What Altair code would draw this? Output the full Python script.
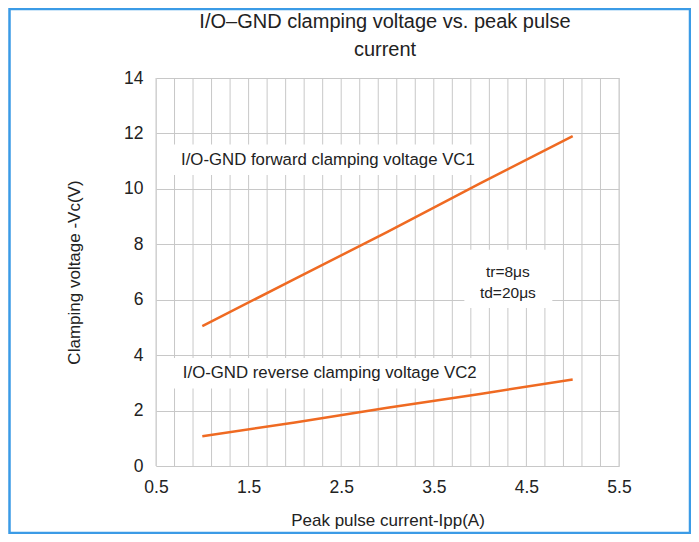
import altair as alt
import pandas as pd

# Data
current = [1.0, 2.0, 3.0, 4.0, 5.0]
vc1_forward = [5.05, 6.75, 8.45, 10.2, 11.9]
vc2_reverse = [1.07, 1.57, 2.1, 2.6, 3.12]

x_grid = [0.5, 0.7, 0.9, 1.1, 1.3, 1.5, 1.7, 1.9, 2.1, 2.3, 2.5, 2.7, 2.9,
          3.1, 3.3, 3.5, 3.7, 3.9, 4.1, 4.3, 4.5, 4.7, 4.9, 5.1, 5.3, 5.5]
x_ticks = [0.5, 1.5, 2.5, 3.5, 4.5, 5.5]
y_ticks = [0, 2, 4, 6, 8, 10, 12, 14]
title_lines = ["I/O–GND clamping voltage vs. peak pulse", "current"]

FONT = "Liberation Sans"
ORANGE = "#ef6a22"
GRID = "#c8c8c8"

df = pd.DataFrame({
    "I": current * 2,
    "V": vc1_forward + vc2_reverse,
    "s": ["VC1"] * len(current) + ["VC2"] * len(current),
})

xs = alt.Scale(domain=[0.5, 5.5], nice=False, zero=False)
ys = alt.Scale(domain=[0, 14], nice=False, zero=True)

X_TITLE = "Peak pulse current-Ipp(A)"
Y_TITLE = "Clamping voltage -Vc(V)"

x_axis = alt.Axis(values=x_ticks, title=X_TITLE, format=".1f",
                  labelFontSize=17.5, labelPadding=12, titleFontSize=17, titlePadding=17,
                  ticks=False, domain=False, grid=False, labelOverlap=False, labelFlush=False,
                  labelFont=FONT, titleFont=FONT, titleFontWeight="normal",
                  labelColor="#222", titleColor="#222")
y_axis = alt.Axis(values=y_ticks, title=Y_TITLE,
                  labelFontSize=17.5, labelPadding=13, titleFontSize=17, titlePadding=40,
                  ticks=False, domain=False, grid=True, gridColor=GRID, labelOverlap=False,
                  labelFlush=False,
                  labelFont=FONT, titleFont=FONT, titleFontWeight="normal",
                  labelColor="#222", titleColor="#222")


def X(field):
    return alt.X(field, scale=xs, axis=x_axis, title=X_TITLE)


def Y(field):
    return alt.Y(field, scale=ys, axis=y_axis, title=Y_TITLE)


vgrid = alt.Chart(pd.DataFrame({"g": x_grid})).mark_rule(color=GRID, strokeWidth=1).encode(
    x=X("g:Q"))

lines = alt.Chart(df).mark_line(color=ORANGE, strokeWidth=2.5).encode(
    x=X("I:Q"), y=Y("V:Q"), detail="s:N")

# white label boxes
box_df = pd.DataFrame({
    "x1": [0.68, 0.68, 3.83],
    "x2": [4.0, 4.0, 4.78],
    "y1": [10.5, 2.8, 5.7],
    "y2": [11.6, 3.9, 7.8],
})
boxes = alt.Chart(box_df).mark_rect(color="white").encode(
    x=X("x1:Q"), x2="x2:Q", y=Y("y1:Q"), y2="y2:Q")

lab_df = pd.DataFrame({
    "x": [0.77, 0.79],
    "y": [11.05, 3.36],
    "t": ["I/O-GND forward clamping voltage VC1", "I/O-GND reverse clamping voltage VC2"],
})
labels = alt.Chart(lab_df).mark_text(align="left", baseline="middle", fontSize=16.8,
                                     font=FONT, color="#222").encode(
    x=X("x:Q"), y=Y("y:Q"), text="t:N")

cond_df = pd.DataFrame({"x": [4.3, 4.3], "y": [7.0, 6.25], "t": ["tr=8μs", "td=20μs"]})
cond = alt.Chart(cond_df).mark_text(align="center", baseline="middle", fontSize=15.5,
                                    font=FONT, color="#222").encode(
    x=X("x:Q"), y=Y("y:Q"), text="t:N")

title1 = alt.Chart(pd.DataFrame({"t": [title_lines[0]]})).mark_text(
    align="center", baseline="middle", fontSize=20, font=FONT, color="#222").encode(
    x=alt.value(229), y=alt.value(-56), text="t:N")
title2 = alt.Chart(pd.DataFrame({"t": [title_lines[1]]})).mark_text(
    align="center", baseline="middle", fontSize=20, font=FONT, color="#222").encode(
    x=alt.value(229), y=alt.value(-28), text="t:N")

frame = alt.Chart(pd.DataFrame({"a": [0]})).mark_rect(
    filled=False, stroke="#3b9be6", strokeWidth=2.5).encode(
    x=alt.value(-146.5), x2=alt.value(534), y=alt.value(-69), y2=alt.value(455))

chart = alt.layer(vgrid, boxes, lines, labels, cond, title1, title2, frame).properties(
    width=463, height=388,
    autosize=alt.AutoSizeParams(type="none"),
    padding={"left": 148, "top": 70, "right": 72, "bottom": 68},
).configure_view(stroke="#b5b5b5", strokeWidth=1.2).configure(background="white")

chart.save("out.html", embed_options={"renderer": "svg", "actions": False})
